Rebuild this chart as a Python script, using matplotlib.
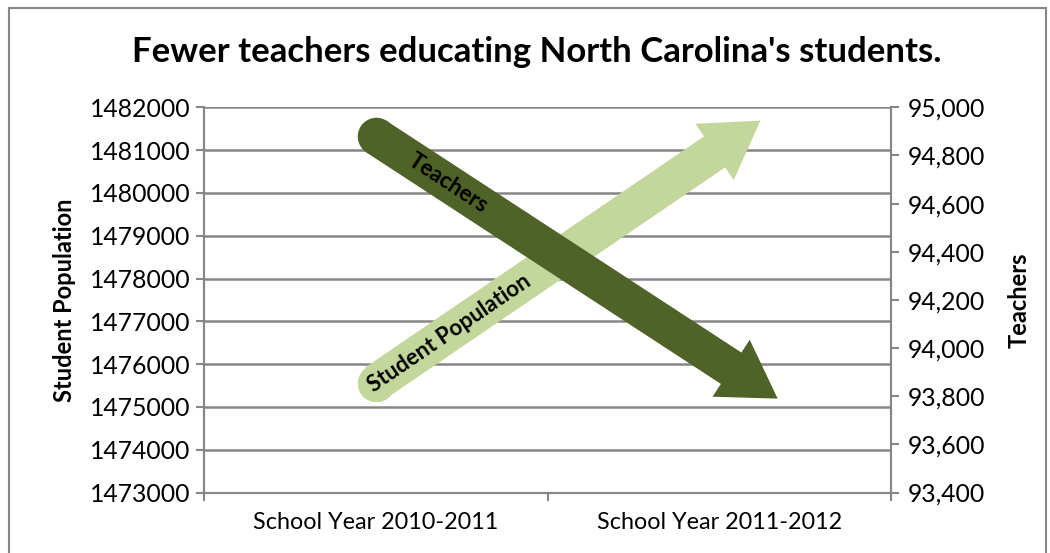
import numpy as np
import matplotlib.pyplot as plt
from matplotlib.patches import Rectangle
from matplotlib.ticker import FuncFormatter

# ==== DATA ==================================================
categories = ["School Year 2010-2011", "School Year 2011-2012"]

# arrow start / tip positions (category units) and values
student_x = [0.0, 1.12]
student_pop = [1475560, 1481690]
teacher_x = [0.0, 1.17]
teachers = [94880, 93790]

left_ticks = np.arange(1473000, 1482001, 1000)
right_ticks = np.arange(93400, 95001, 200)
# ============================================================

plt.rcParams['font.family'] = ['Lato', 'DejaVu Sans']

dark = "#4F6228"
light = "#C3D69B"
gray = "#868686"

fig = plt.figure(figsize=(10.5, 5.53), dpi=100)
ax = fig.add_axes([204/1050, 1 - 492.5/553, 687/1050, 385.2/553])
ax2 = ax.twinx()

ax.set_xlim(-0.5, 1.5)
ax.set_ylim(1473000, 1482000)
ax2.set_ylim(93400, 95000)

ax.set_yticks(left_ticks)
ax.yaxis.set_major_formatter(FuncFormatter(lambda v, p: f"{int(v)}"))
ax2.set_yticks(right_ticks)
ax2.yaxis.set_major_formatter(FuncFormatter(lambda v, p: f"{int(v):,}"))
ax.set_xticks([-0.5, 0.5, 1.5])
ax.set_xticklabels([])
ax.set_xticks([0, 1], minor=True)
ax.set_xticklabels(categories, minor=True, fontsize=16.8)
ax.tick_params(axis='x', which='minor', length=0, pad=14)
ax.tick_params(axis='x', which='major', length=6, color=gray, width=1.5)
ax.tick_params(axis='y', length=6, color=gray, width=1.5, labelsize=17.8, pad=4)
ax2.tick_params(axis='y', length=6, color=gray, width=1.5, labelsize=17.8, pad=6)

ax.grid(axis='y', color=gray, lw=1.8)
ax.set_axisbelow(True)
for a in (ax, ax2):
    a.spines["top"].set_visible(False)
    for s in ("left", "right", "bottom"):
        a.spines[s].set_color(gray)
        a.spines[s].set_linewidth(1.5)

ax.set_ylabel("Student Population", fontsize=17, fontweight='bold', labelpad=10)
ax2.set_ylabel("Teachers", fontsize=17, fontweight='bold', labelpad=16)

fig.text(537/1050, 1 - 52/553, "Fewer teachers educating North Carolina's students.",
         ha='center', va='center', fontsize=25, fontweight='bold')


def draw_arrow(a, xs, ys, color, label, frac):
    style = "simple,head_length=40,head_width=49,tail_width=27"
    a.annotate("", xy=(xs[1], ys[1]), xytext=(xs[0], ys[0]),
               arrowprops=dict(arrowstyle=style, mutation_scale=1, color=color,
                               shrinkA=0, shrinkB=0, lw=0))
    a.plot([xs[0]], [ys[0]], 'o', ms=27, color=color, mec='none')
    p0 = a.transData.transform((xs[0], ys[0]))
    p1 = a.transData.transform((xs[1], ys[1]))
    ang = np.degrees(np.arctan2(p1[1] - p0[1], p1[0] - p0[0]))
    tx = xs[0] + frac * (xs[1] - xs[0])
    ty = ys[0] + frac * (ys[1] - ys[0])
    a.text(tx, ty, label, rotation=ang, rotation_mode='anchor', ha='center', va='center',
           fontsize=16, fontweight='bold')


draw_arrow(ax, student_x, student_pop, light, "Student Population", 0.19)
draw_arrow(ax2, teacher_x, teachers, dark, "Teachers", 0.18)

fig.patches.append(Rectangle((9/1050, -0.1), 1037/1050, 1.1 - 8/553,
                             transform=fig.transFigure, fill=False, ec=gray, lw=1.5))

fig.savefig("out.png", dpi=100)
